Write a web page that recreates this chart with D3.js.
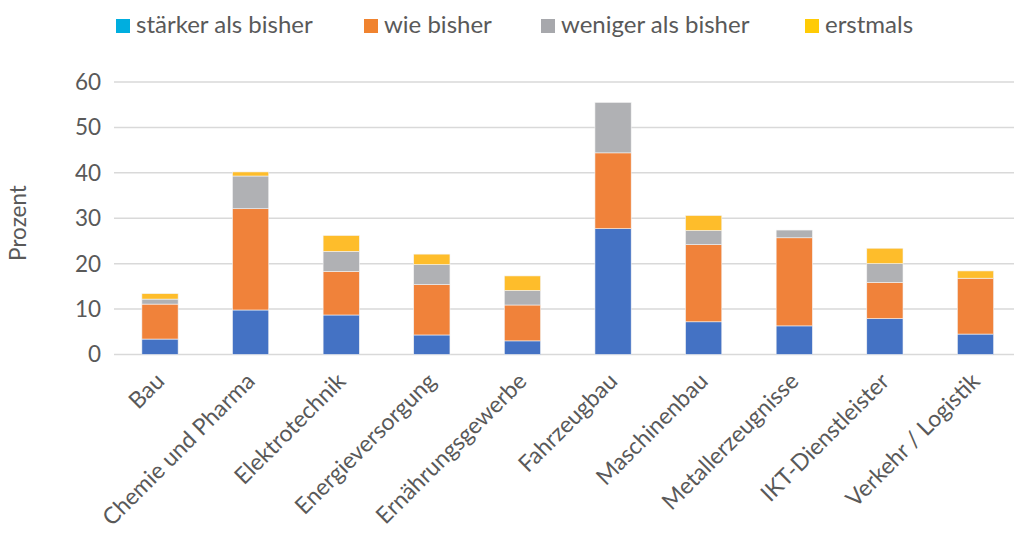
<!DOCTYPE html>
<html><head><meta charset="utf-8">
<script src="https://cdn.jsdelivr.net/npm/d3@7"></script>
<style>body{margin:0;background:#fff}svg{display:block;font-family:Lato,"Open Sans",sans-serif}</style>
</head><body><svg id="c" width="1014" height="538"></svg>
<script>
const categories = ["Bau","Chemie und Pharma","Elektrotechnik","Energieversorgung","Ernährungsgewerbe","Fahrzeugbau","Maschinenbau","Metallerzeugnisse","IKT-Dienstleister","Verkehr / Logistik"];
const seriesNames = ["stärker als bisher","wie bisher","weniger als bisher","erstmals"];
const staerker = [3.4, 9.8, 8.7, 4.3, 3.0, 27.7, 7.2, 6.3, 7.9, 4.5];
const wie      = [7.7, 22.3, 9.6, 11.1, 7.9, 16.7, 17.0, 19.4, 8.0, 12.3];
const weniger  = [1.1, 7.2, 4.4, 4.4, 3.2, 11.1, 3.1, 1.7, 4.1, 0.0];
const erstmals = [1.2, 0.9, 3.5, 2.3, 3.2, 0.0, 3.3, 0.0, 3.4, 1.6];
const yTicks = [0,10,20,30,40,50,60];
const barColors = ["#4472C4","#F0823A","#B0B1B4","#FEBD2B"];
const legendColors = ["#00AEDF","#F0832F","#A7A8AC","#FFCB05"];

const svg = d3.select("#c");
const txt = "#595959";
const x = d3.scaleBand().domain(categories).range([114.7, 1020.8]).paddingInner(0.6).paddingOuter(0.3);
const y = d3.scaleLinear().domain([0,60]).range([354.5, 82]);

// gridlines
svg.append("g").selectAll("line").data(yTicks).join("line")
  .attr("x1",114).attr("x2",1014).attr("y1",d=>y(d)).attr("y2",d=>y(d))
  .attr("stroke","#D9D9D9").attr("stroke-width",1.5);

// y axis labels
svg.append("g").selectAll("text").data(yTicks).join("text")
  .attr("x",101).attr("y",d=>y(d)).attr("dy","0.35em").attr("text-anchor","end")
  .attr("fill",txt).attr("font-size",22.5).text(d=>d);

svg.append("text").attr("transform","translate(26,223) rotate(-90)")
  .attr("text-anchor","middle").attr("fill",txt).attr("font-size",22.5).text("Prozent");

// stacked bars
const rows = categories.map((c,i)=>({cat:c, s0:staerker[i], s1:wie[i], s2:weniger[i], s3:erstmals[i]}));
const stack = d3.stack().keys(["s0","s1","s2","s3"])(rows);
svg.append("g").selectAll("g").data(stack).join("g")
  .attr("fill",(d,i)=>barColors[i])
  .selectAll("rect").data(d=>d).join("rect")
  .attr("x",d=>x(d.data.cat)).attr("width",x.bandwidth())
  .attr("y",d=>y(d[1])).attr("height",d=>Math.max(0,y(d[0])-y(d[1])))
  .attr("stroke",d=>(d[1]-d[0])>0?"#f4f4f4":"none").attr("stroke-width",0.6);

// x labels
svg.append("g").selectAll("text").data(categories).join("text")
  .attr("transform",d=>`translate(${x(d)+x.bandwidth()/2},${377}) rotate(-45)`)
  .attr("text-anchor","end").attr("dy","0.35em")
  .attr("fill",txt).attr("font-size",23).text(d=>d);

// legend
const legX = [116, 364, 541, 805];
const lg = svg.append("g").selectAll("g").data(seriesNames).join("g")
  .attr("transform",(d,i)=>`translate(${legX[i]},19)`);
lg.append("rect").attr("width",14).attr("height",14).attr("fill",(d,i)=>legendColors[i]);
lg.append("text").attr("x",20).attr("y",14).attr("fill",txt).attr("font-size",24).text(d=>d);
</script></body></html>
